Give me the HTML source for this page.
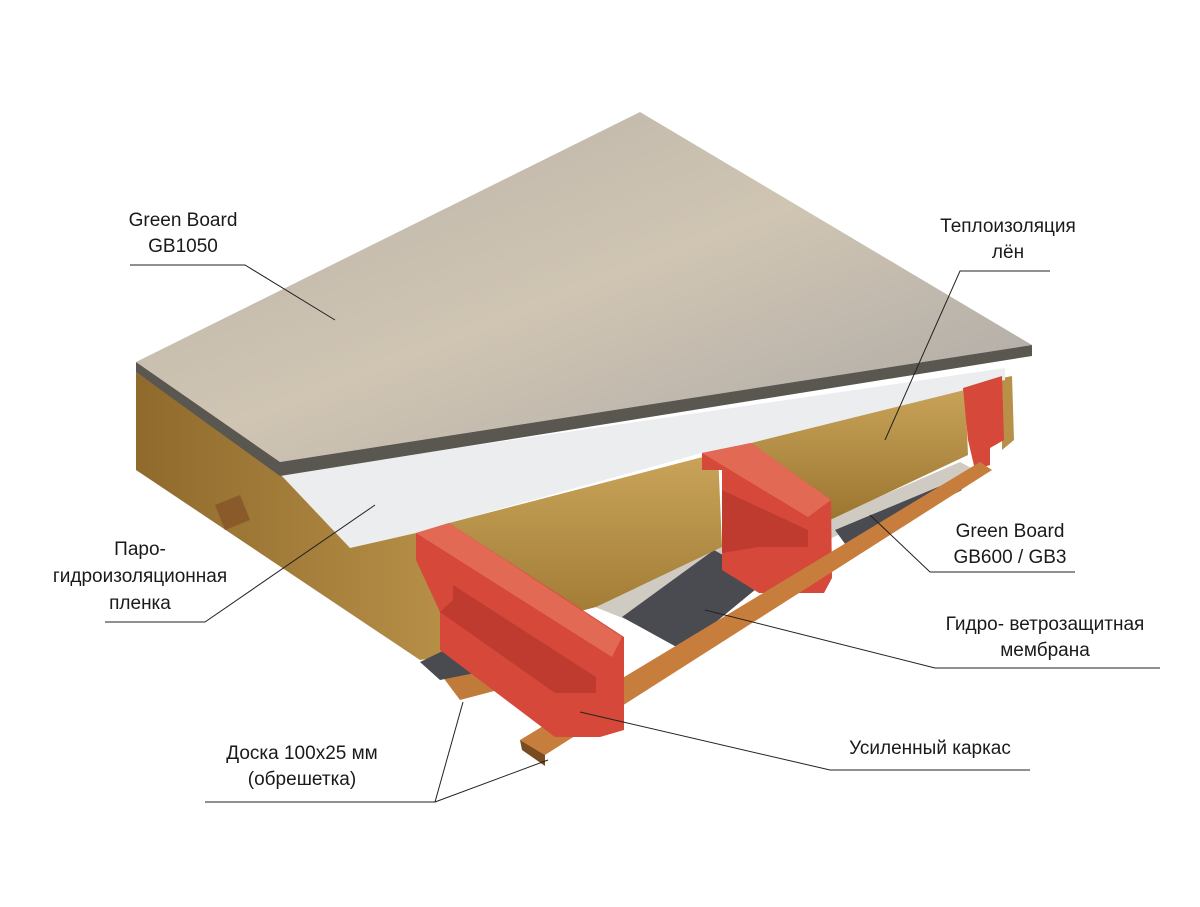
<!DOCTYPE html>
<html><head><meta charset="utf-8"><style>
html,body{margin:0;padding:0;background:#fff;}
svg{display:block}
text{font-family:"Liberation Sans",sans-serif;font-size:19px;fill:#1a1a1a}
</style></head><body>
<svg width="1200" height="907" viewBox="0 0 1200 907" xmlns="http://www.w3.org/2000/svg">
<defs>
<linearGradient id="ins" x1="0" y1="0" x2="0" y2="1"><stop offset="0" stop-color="#c9a45a"/><stop offset="1" stop-color="#9c7630"/></linearGradient>
<linearGradient id="ins2" x1="0" y1="0" x2="1" y2="0"><stop offset="0" stop-color="#8f6a2c"/><stop offset="1" stop-color="#b89048"/></linearGradient>
<linearGradient id="brd" x1="0" y1="0" x2="1" y2="1"><stop offset="0" stop-color="#b5b0a6"/><stop offset=".5" stop-color="#d0c5b3"/><stop offset="1" stop-color="#a9a6a4"/></linearGradient>
</defs>
<!-- left insulation face -->
<polygon points="136,372 280,474 420,535 455,655 420,660 136,470" fill="url(#ins2)"/>
<!-- battens left stubs -->
<polygon points="215,505 240,495 250,520 225,530" fill="#8a5a2a"/>
<polygon points="439,672 490,655 498,690 460,700" fill="#c07a3a"/>
<!-- underside OSB and membrane -->
<polygon points="590,605 718,547 830,518 960,462 975,470 860,525 740,580 640,625" fill="#cfcbc2"/>
<polygon points="622,617 714,550 767,580 682,650" fill="#4a4b50"/>
<polygon points="835,530 950,482 962,490 848,548" fill="#4a4b50"/>
<polygon points="420,662 455,645 480,672 440,680" fill="#4a4b50"/>
<!-- insulation blocks -->
<polygon points="449,523 718,453 722,547 596,607 470,640" fill="url(#ins)"/>
<polygon points="751,443 965,385 968,455 830,520" fill="url(#ins)"/>
<polygon points="1002,378 1012,376 1014,440 1002,450" fill="#b89048"/>
<!-- white membrane -->
<polygon points="280,474 1005,368 1005,380 751,443 702,453 449,523 416,533 350,548" fill="#ecedee"/>
<!-- board -->
<polygon points="136,362 640,112 1032,345 280,462" fill="url(#brd)"/>
<polygon points="136,362 280,462 1032,345 1032,356 280,476 136,372" fill="#5a5650"/>
<!-- beam 2 -->
<polygon points="702,453 751,443 831,500 832,578 824,593 759,593 722,570 722,470 702,470" fill="#d6483a"/>
<polygon points="702,453 751,443 831,500 808,517" fill="#e26a55"/>
<polygon points="722,490 808,530 808,547 759,547 722,553" fill="#bf3b30"/>
<!-- beam 3 -->
<polygon points="963,388 1002,376 1004,440 990,448 990,465 975,470 968,440" fill="#d6483a"/>
<!-- front batten -->
<polygon points="520,740 980,462 992,470 545,755" fill="#c77d3c"/>
<polygon points="520,740 545,755 545,766 522,750" fill="#7a4a20"/>
<!-- beam 1 -->
<polygon points="416,533 449,523 624,637 624,730 600,737 555,737 440,650 440,612 416,560" fill="#d6483a"/>
<polygon points="416,533 449,523 622,637 612,657" fill="#e26a55"/>
<polygon points="453,585 596,677 596,693 555,693 440,612 453,600" fill="#bf3b30"/>
<!-- leaders -->
<g stroke="#222" stroke-width="1" fill="none">
<polyline points="130,265 245,265 335,320"/>
<polyline points="1050,271 960,271 885,440"/>
<polyline points="1075,572 930,572 870,515"/>
<polyline points="1160,668 935,668 705,610"/>
<polyline points="1030,770 830,770 580,712"/>
<polyline points="205,802 435,802 463,702"/>
<polyline points="435,802 548,760"/>
<polyline points="105,622 205,622 375,505"/>
</g>
<text x="183" y="226" text-anchor="middle">Green Board</text>
<text x="183" y="252" text-anchor="middle">GB1050</text>
<text x="1008" y="232" text-anchor="middle">Теплоизоляция</text>
<text x="1008" y="258" text-anchor="middle">лён</text>
<text x="1010" y="537" text-anchor="middle">Green Board</text>
<text x="1010" y="563" text-anchor="middle">GB600 / GB3</text>
<text x="1045" y="630" text-anchor="middle">Гидро- ветрозащитная</text>
<text x="1045" y="656" text-anchor="middle">мембрана</text>
<text x="930" y="754" text-anchor="middle">Усиленный каркас</text>
<text x="302" y="759" text-anchor="middle">Доска 100x25 мм</text>
<text x="302" y="785" text-anchor="middle">(обрешетка)</text>
<text x="140" y="555" text-anchor="middle">Паро-</text>
<text x="140" y="582" text-anchor="middle">гидроизоляционная</text>
<text x="140" y="609" text-anchor="middle">пленка</text>
</svg>
</body></html>
